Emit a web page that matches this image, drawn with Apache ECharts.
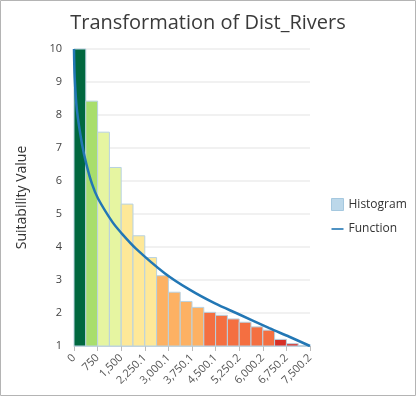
<!DOCTYPE html>
<html><head><meta charset="utf-8">
<script src="https://cdn.jsdelivr.net/npm/echarts@6/dist/echarts.min.js"></script>
<style>html,body{margin:0;padding:0;background:#fff}#c{width:416px;height:396px}</style>
</head><body><div id="c"></div>
<script>
// Histogram bins (start/end of each bin, in distance units) and heights
const binStarts = [0,375,750,1125,1500,1875,2250.1,2625.1,3000.1,3375.1,3750.1,4125.1,4500.1,4875.1,5250.2,5625.2,6000.2,6375.2,6750.2,7125.2];
const binEnds   = [375,750,1125,1500,1875,2250.1,2625.1,3000.1,3375.1,3750.1,4125.1,4500.1,4875.1,5250.2,5625.2,6000.2,6375.2,6750.2,7125.2,7500.2];
const histValues = [10,8.42,7.48,6.41,5.3,4.34,3.68,3.13,2.63,2.35,2.17,2.02,1.93,1.82,1.72,1.58,1.48,1.2,1.07,1.01];
const histColors = ['#00683f','#a8de6c','#e6f5a1','#e6f5a1','#fee898','#fee898','#fee898','#fdb163','#fdb163','#fdb163','#fdb163','#f46f41','#f46f41','#f46f41','#f46f41','#f46f41','#f46f41','#d73027','#d73027','#d73027'];
// Function curve points
const funcX = [0,22,95,254,391,572,763,1218,1490,1960,2892,3687,4481,5222,6207,6843,7500.2];
const funcY = [10,9.14,8.13,7.12,6.52,5.91,5.47,4.76,4.44,3.96,3.2,2.7,2.29,1.97,1.54,1.28,1];
const xTickLabels = ['0','750','1,500','2,250.1','3,000.1','3,750.1','4,500.1','5,250.2','6,000.2','6,750.2','7,500.2'];

const font = '"Open Sans", "Noto Sans", sans-serif';
const chart = echarts.init(document.getElementById('c'), null, {renderer:'canvas'});
chart.setOption({
  animation:false,
  textStyle:{fontFamily:font},
  title:{text:'Transformation of Dist_Rivers', left:'center', top:8,
    textStyle:{fontFamily:font, fontSize:20, fontWeight:'normal', color:'#3a3a3a'}},
  graphic:[{type:'rect', shape:{x:0.5,y:0.5,width:415,height:395}, style:{fill:'none', stroke:'#b4b4b4', lineWidth:1}, silent:true}],
  legend:{orient:'vertical', left:331, top:198, padding:0, itemGap:12, itemWidth:12, itemHeight:12,
    textStyle:{fontFamily:font, fontSize:12, color:'#333'},
    data:[{name:'Histogram', icon:'rect', itemStyle:{color:'#bcd8ea', borderColor:'#a5c8df', borderWidth:1}},
          {name:'Function', icon:'path://M0,0H12V1.6H0Z'}]},
  grid:{left:74, right:106, top:49, bottom:50},
  xAxis:{type:'value', min:0, max:7500.2, interval:750.02,
    axisLine:{show:true, lineStyle:{color:'#c8d4dc', width:1}},
    axisTick:{show:true, length:5, lineStyle:{color:'#bbb'}},
    splitLine:{show:false},
    axisLabel:{rotate:45, fontSize:11, color:'#555', margin:10, fontFamily:font,
      formatter:(v,i)=>xTickLabels[i] !== undefined ? xTickLabels[i] : ''}},
  yAxis:{type:'value', min:1, max:10, interval:1,
    name:'Suitability Value', nameLocation:'middle', nameGap:45,
    nameTextStyle:{fontFamily:font, fontSize:14, color:'#333'},
    axisLine:{show:false}, axisTick:{show:false},
    splitLine:{lineStyle:{color:'#ececec', width:1.5}},
    axisLabel:{fontSize:11, color:'#444', margin:12, fontFamily:font}},
  series:[
    {name:'Histogram', type:'custom', itemStyle:{color:'#bcd8ea'},
     data: binStarts.map((s,i)=>[s, binEnds[i], histValues[i], i]),
     encode:{x:[0,1], y:2},
     renderItem:(params, api)=>{
       const p0 = api.coord([api.value(0), api.value(2)]);
       const p1 = api.coord([api.value(1), 1]);
       return {type:'rect', shape:{x:p0[0], y:p0[1], width:p1[0]-p0[0], height:p1[1]-p0[1]},
         style:{fill:histColors[api.value(3)], stroke:'#b8d2e2', lineWidth:1}};
     }},
    {name:'Function', type:'line', smooth:0.3, symbol:'none', z:5,
     lineStyle:{color:'#2277b5', width:2.5}, itemStyle:{color:'#2277b5'},
     data: funcX.map((x,i)=>[x, funcY[i]])}
  ]
});
</script></body></html>
